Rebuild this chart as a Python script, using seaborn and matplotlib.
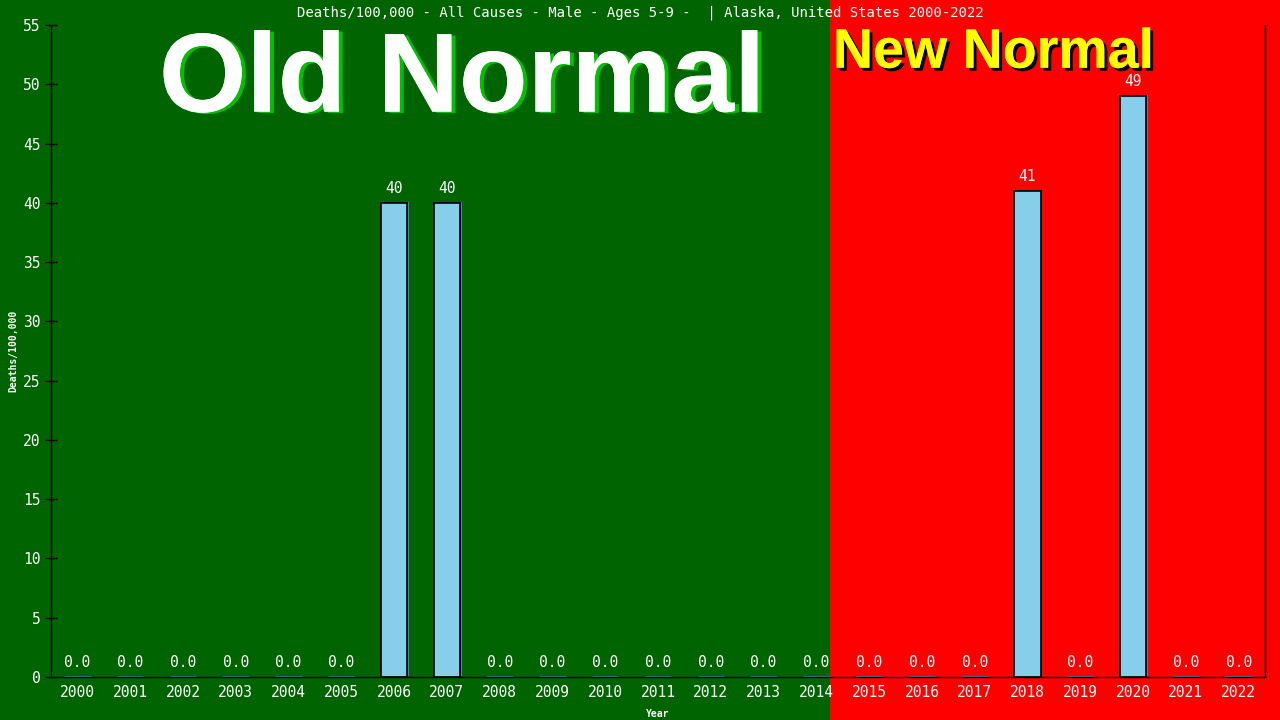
import matplotlib
matplotlib.use("Agg")
import matplotlib.pyplot as plt
import matplotlib.patheffects as pe
from matplotlib.patches import Rectangle
import pandas as pd
import seaborn as sns

# data
years = [str(y) for y in range(2000, 2023)]
deaths = [0, 0, 0, 0, 0, 0, 40, 40, 0, 0, 0, 0, 0, 0, 0, 0, 0, 0, 41, 0, 49, 0, 0]
title = "Deaths/100,000 - All Causes - Male - Ages 5-9 -  | Alaska, United States 2000-2022"
y_ticks = list(range(0, 56, 5))

df = pd.DataFrame({"Year": years, "Deaths": deaths})

sns.set_style("white")
plt.rcParams["font.family"] = ["DejaVu Sans Mono", "DejaVu Sans"]

fig = plt.figure(figsize=(12.8, 7.2), dpi=100)
fig.patch.set_facecolor("#006400")
# red "new normal" half of the background
fig.patches.append(Rectangle((0.6484, 0), 1 - 0.6484, 1, transform=fig.transFigure,
                             facecolor="#ff0000", edgecolor="none", zorder=-10))

ax = fig.add_axes([0.0398, 0.0597, 0.9485, 0.9056])
ax.set_facecolor("none")

sns.barplot(data=df, x="Year", y="Deaths", color="skyblue", saturation=1,
            width=0.5, edgecolor="black", linewidth=1.2, ax=ax)

for bar, val in zip(ax.patches, deaths):
    if val == 0:
        bar.set_edgecolor("steelblue")
        bar.set_linewidth(2)
    else:
        bar.set_path_effects([pe.withSimplePatchShadow(offset=(1.2, 0.8), shadow_rgbFace="steelblue",
                                                       alpha=1), pe.Normal()])
    lbl = "0.0" if val == 0 else f"{val:.0f}"
    ax.annotate(lbl, (bar.get_x() + bar.get_width() / 2, val), xytext=(0, 5),
                textcoords="offset points", ha="center", va="bottom",
                color="white", fontsize=10.5)

ax.set_xlim(-0.5, len(years) - 0.5)
ax.set_ylim(0, 55)
ax.set_yticks(y_ticks)
ax.tick_params(axis="y", direction="inout", length=8, width=1, color="black",
               labelcolor="white", labelsize=10.5, left=True)
ax.tick_params(axis="x", length=0, labelcolor="white", labelsize=10.5, pad=6)
for side in ["left", "bottom", "right"]:
    ax.spines[side].set_color("black")
    ax.spines[side].set_linewidth(1)
ax.spines["top"].set_visible(False)

ax.set_xlabel("Year", color="white", fontsize=7, fontweight="bold", labelpad=6)
ax.set_ylabel("Deaths/100,000", color="white", fontsize=7, fontweight="bold")
ax.yaxis.set_label_coords(-0.027, 0.5)

fig.text(0.5, 0.982, title, ha="center", va="center", color="white", fontsize=10)

fig.text(0.361, 0.845, "Old Normal", ha="center", va="baseline", color="white",
         fontsize=81, fontweight="bold", family=["Liberation Sans", "DejaVu Sans"],
         path_effects=[pe.withSimplePatchShadow(offset=(3, -1), shadow_rgbFace="#00c000", alpha=1),
                       pe.Normal()])
fig.text(0.776, 0.906, "New Normal", ha="center", va="baseline", color="yellow",
         fontsize=40, fontweight="bold", family=["Liberation Sans", "DejaVu Sans"],
         path_effects=[pe.withSimplePatchShadow(offset=(2.2, -2.2), shadow_rgbFace="black", alpha=1),
                       pe.Normal()])

fig.savefig("out.png", dpi=100, facecolor=fig.get_facecolor())
